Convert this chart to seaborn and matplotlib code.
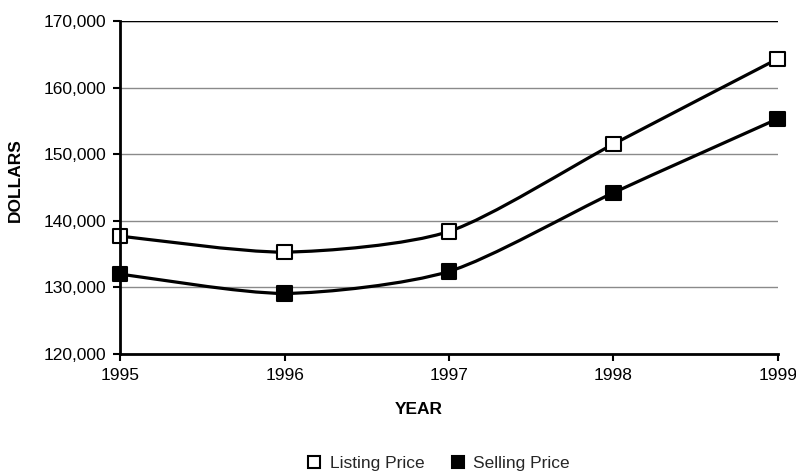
import numpy as np
import pandas as pd
import matplotlib
matplotlib.use("Agg")
import matplotlib.pyplot as plt
import seaborn as sns
from matplotlib.path import Path
from matplotlib.patches import PathPatch
from matplotlib.lines import Line2D
from matplotlib.ticker import FuncFormatter

# Median home prices by year
years = [1995, 1996, 1997, 1998, 1999]
listing_price = [137700, 135300, 138400, 151500, 164300]
selling_price = [132000, 129100, 132400, 144200, 155300]
series_names = ["Listing Price", "Selling Price"]
y_ticks = [120000, 130000, 140000, 150000, 160000, 170000]

sns.set_theme(style="white")
plt.rcParams["font.family"] = ["Liberation Sans", "DejaVu Sans"]

df = pd.DataFrame({
    "Year": years * 2,
    "Price": listing_price + selling_price,
    "Series": [series_names[0]] * len(years) + [series_names[1]] * len(years),
})

fig = plt.figure(figsize=(7.96, 4.74), dpi=100)
ax = fig.add_axes([0.151, 0.253, 0.826, 0.703])


def smooth_path(x, y, k=8.0):
    """Gently smoothed Bezier curve through the points."""
    pts = np.column_stack([x, y]).astype(float)
    n = len(pts)
    verts = [pts[0]]
    codes = [Path.MOVETO]
    for i in range(n - 1):
        p0 = pts[i - 1] if i > 0 else pts[i]
        p1 = pts[i]
        p2 = pts[i + 1]
        p3 = pts[i + 2] if i + 2 < n else pts[i + 1]
        c1 = p1 + (p2 - p0) / k
        c2 = p2 - (p3 - p1) / k
        verts += [c1, c2, p2]
        codes += [Path.CURVE4] * 3
    return Path(verts, codes)


for name in series_names:
    sub = df[df["Series"] == name]
    ax.add_patch(PathPatch(smooth_path(sub["Year"], sub["Price"]), fill=False,
                           edgecolor="black", lw=2.3, capstyle="round",
                           joinstyle="round", zorder=3))

sns.scatterplot(data=df, x="Year", y="Price", hue="Series",
                palette={series_names[0]: "white", series_names[1]: "black"},
                marker="s", s=110, edgecolor="black", linewidth=1.5,
                legend=False, zorder=4, clip_on=False, ax=ax)

ax.set_xlim(years[0], years[-1])
ax.set_ylim(y_ticks[0], y_ticks[-1])
ax.set_xticks(years)
ax.set_yticks(y_ticks)
ax.yaxis.set_major_formatter(FuncFormatter(lambda v, p: f"{int(v):,}"))

ax.yaxis.grid(True, color="#8a8a8a", lw=1)
ax.xaxis.grid(False)
ax.axhline(y_ticks[-1], color="black", lw=1, zorder=2)

for side in ("top", "right"):
    ax.spines[side].set_visible(False)
for side in ("left", "bottom"):
    ax.spines[side].set_color("black")
    ax.spines[side].set_linewidth(2)
    ax.spines[side].set_zorder(5)

ax.tick_params(direction="out", length=5, width=1.5, color="black",
               labelsize=12.5, labelcolor="black")
ax.tick_params(axis="x", bottom=True, pad=5)
ax.tick_params(axis="y", left=True, pad=5)

ax.set_xlabel("")
ax.set_ylabel("")
fig.text(0.019, 0.62, "DOLLARS", rotation=90, ha="center", va="center",
         fontsize=12.5, fontweight="bold", color="black")
fig.text(0.526, 0.137, "YEAR", ha="center", va="center",
         fontsize=12.5, fontweight="bold", color="black")

handles = [
    Line2D([], [], ls="none", marker="s", markersize=9, markerfacecolor="white",
           markeredgecolor="black", markeredgewidth=1.5),
    Line2D([], [], ls="none", marker="s", markersize=9, markerfacecolor="black",
           markeredgecolor="black", markeredgewidth=1.5),
]
fig.legend(handles, series_names, loc="center", bbox_to_anchor=(0.55, 0.022),
           ncol=2, frameon=False, fontsize=12.5, handlelength=1.0,
           handletextpad=0.4, columnspacing=1.4)

fig.savefig("out.png", dpi=100)
